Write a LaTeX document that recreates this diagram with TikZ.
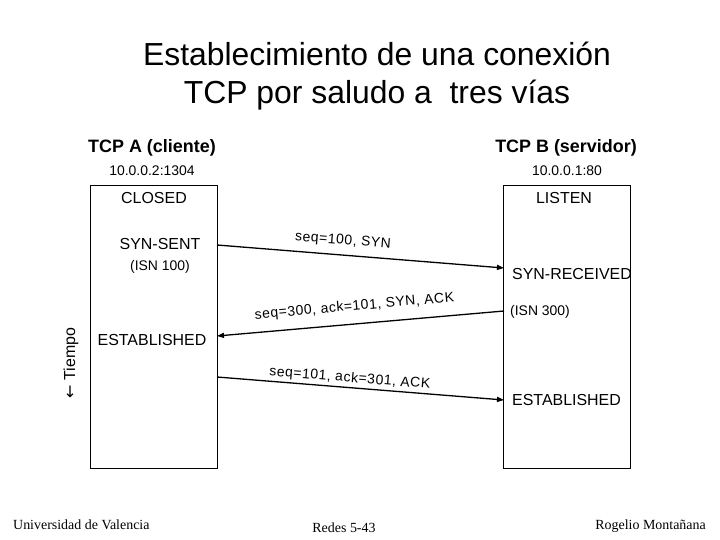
\documentclass[tikz,border=0pt]{standalone}
\usepackage{fontspec}
\setmainfont{Liberation Sans}
\newfontfamily\footfont{Liberation Serif}
\newfontfamily\symfont{DejaVu Sans}
\newfontfamily\msgfont[LetterSpace=4]{Liberation Sans}
\usetikzlibrary{arrows.meta,positioning}

\begin{document}
\begin{tikzpicture}[x=1bp,y=-1bp,
  host/.style={rectangle,draw,line width=0.8bp,minimum width=127bp,minimum height=283bp},
  hdr/.style={font=\fontsize{18}{20}\selectfont\bfseries,inner sep=0pt},
  addr/.style={font=\fontsize{14}{16}\selectfont,inner sep=0pt},
  state/.style={font=\fontsize{16}{18}\selectfont,inner sep=0pt},
  isn/.style={font=\fontsize{14}{16}\selectfont,inner sep=0pt},
  msg/.style={font=\msgfont\fontsize{14}{16}\selectfont,sloped,inner sep=2bp},
  arr/.style={-{Triangle[length=7bp,width=5bp]},line width=1.3bp},
  foot/.style={font=\footfont\fontsize{14}{16}\selectfont,inner sep=0pt}
]
\useasboundingbox (0,0) rectangle (720,540);
\node[align=center,font=\fontsize{32}{38}\selectfont] (title) at (377,76) {Establecimiento de una conexión\\TCP por saludo a \ tres vías};
% hosts
\node[host] (hostA) at (153.5,326.5) {};
\node[host] (hostB) at (567,326.5) {};
\node[hdr] (nameA) at (152,148) {TCP A (cliente)};
\node[hdr] (nameB) at (566,148) {TCP B (servidor)};
\node[addr] (ipA) at (152,171) {10.0.0.2:1304};
\node[addr] (ipB) at (567,171) {10.0.0.1:80};
% states
\node[state] (closed) at (154,198) {CLOSED};
\node[state] (listen) at (564,198) {LISTEN};
\node[state] (synsent) at (160,244) {SYN-SENT};
\node[isn] (isnA) at (160,267) {(ISN 100)};
\node[state,anchor=west] (synrcvd) at (512,274) {SYN-RECEIVED};
\node[isn,anchor=west] (isnB) at (510,312) {(ISN 300)};
\node[state] (estA) at (152,340) {ESTABLISHED};
\node[state,anchor=west] (estB) at (512,400) {ESTABLISHED};
\node[rotate=90,inner sep=0pt,font=\fontsize{16}{18}\selectfont] (tiempo) at (71,363) {{\symfont ←} Tiempo};
% segments
\coordinate (synA) at (217,245);
\coordinate (synB) at (504,268);
\coordinate (sackB) at (504,311);
\coordinate (sackA) at (217,336);
\coordinate (ackA) at (217,377);
\coordinate (ackB) at (504,400);
\draw[arr] (synA)--node[msg,pos=0.435,above=5bp]{seq=100, SYN}(synB);
\draw[arr] (sackB)--node[msg,pos=0.516,above=8bp]{seq=300, ack=101, SYN, ACK}(sackA);
\draw[arr] (ackA)--node[msg,pos=0.46,above=0bp]{seq=101, ack=301, ACK}(ackB);
% footer
\node[foot,anchor=base west] (univ) at (13,529) {Universidad de Valencia};
\node[foot,anchor=base] (redes) at (344,532) {Redes 5-43};
\node[foot,anchor=base east] (autor) at (706,529) {Rogelio Montañana};
\end{tikzpicture}
\end{document}
